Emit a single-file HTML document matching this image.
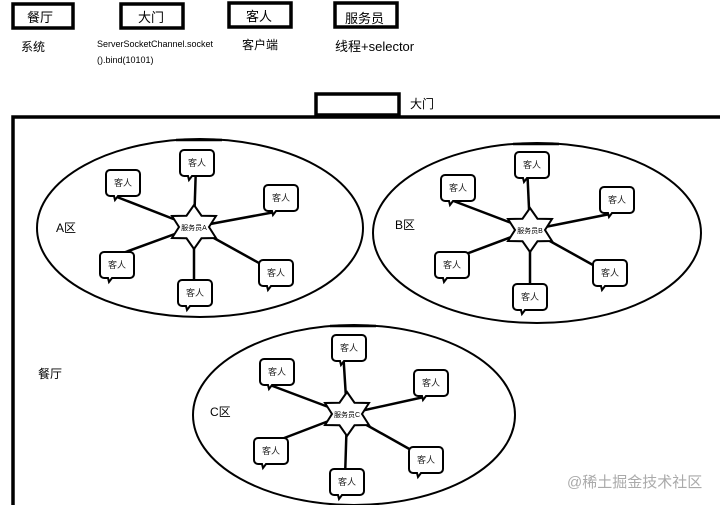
<!DOCTYPE html>
<html><head><meta charset="utf-8"><style>
html,body{margin:0;padding:0;background:#fff;}
svg{display:block;font-family:"Liberation Sans","Noto Sans CJK SC",sans-serif;}
</style></head><body>
<svg width="720" height="505" viewBox="0 0 720 505" xmlns="http://www.w3.org/2000/svg">
<defs>
<g id="bub"><path d="M-13,-13 h26 a4,4 0 0 1 4,4 v18 a4,4 0 0 1 -4,4 h-18 l-3,4 l-1,-4 h-4 a4,4 0 0 1 -4,-4 v-18 a4,4 0 0 1 4,-4z" fill="#fff" stroke="#000" stroke-width="2"/></g>
<polygon id="star" points="0,-22 7.5,-11.3 22,-11 15,0 22,11 7.5,11.3 0,22 -7.5,11.3 -22,11 -15,0 -22,-11 -7.5,-11.3" fill="#fff" stroke="#000" stroke-width="2"/>
</defs>
<g fill="none" stroke="#000" stroke-width="3.5">
<rect x="13" y="4" width="60" height="24"/>
<rect x="121" y="4" width="62" height="24"/>
<rect x="229" y="3" width="62" height="24"/>
<rect x="335" y="3" width="62" height="24"/>
<rect x="316" y="94" width="83" height="21"/>
<path d="M13,505 V117 H720"/>
</g>
<g font-size="13" fill="#000">
<text x="27" y="22">餐厅</text><text x="138" y="22">大门</text><text x="246" y="21">客人</text><text x="345" y="23">服务员</text>
<text x="21" y="51" font-size="12">系统</text>
<text x="97" y="47" font-size="9">ServerSocketChannel.socket</text>
<text x="97" y="63" font-size="9">().bind(10101)</text>
<text x="242" y="49" font-size="12">客户端</text>
<text x="335" y="51" font-size="13">线程+selector</text>
<text x="410" y="108" font-size="12">大门</text>
<text x="56" y="232" font-size="12">A区</text>
<text x="395" y="229" font-size="12">B区</text>
<text x="210" y="416" font-size="12">C区</text>
<text x="38" y="378" font-size="12">餐厅</text>
</g>
<text x="567" y="487" font-size="15" fill="#aaa">@稀土掘金技术社区</text>
<g fill="none" stroke="#000" stroke-width="2">
<ellipse cx="200" cy="228" rx="163" ry="89"/>
<ellipse cx="537" cy="233" rx="164" ry="90"/>
<ellipse cx="354" cy="415" rx="161" ry="90"/>
</g>
<g stroke="#000" stroke-width="2.5">
<line x1="176" y1="140" x2="222" y2="140"/>
<line x1="513" y1="144" x2="559" y2="144"/>
<line x1="330" y1="326" x2="376" y2="326"/>
</g>
<g stroke="#000" stroke-width="2.5">
<line x1="194" y1="227" x2="196" y2="165"/><line x1="194" y1="227" x2="117" y2="197"/><line x1="194" y1="227" x2="275" y2="212"/>
<line x1="194" y1="227" x2="112" y2="257"/><line x1="194" y1="227" x2="268" y2="268"/><line x1="194" y1="227" x2="194" y2="290"/>
<line x1="530" y1="230" x2="527" y2="165"/><line x1="530" y1="230" x2="451" y2="200"/><line x1="530" y1="230" x2="610" y2="214"/>
<line x1="530" y1="230" x2="450" y2="260"/><line x1="530" y1="230" x2="602" y2="270"/><line x1="530" y1="230" x2="530" y2="295"/>
<line x1="347" y1="414" x2="343" y2="350"/><line x1="347" y1="414" x2="270" y2="385"/><line x1="347" y1="414" x2="424" y2="397"/>
<line x1="347" y1="414" x2="266" y2="445"/><line x1="347" y1="414" x2="420" y2="455"/><line x1="347" y1="414" x2="345" y2="478"/>
</g>
<use href="#star" x="194" y="227"/><use href="#star" x="530" y="230"/><use href="#star" x="347" y="414"/>
<g font-size="7" text-anchor="middle"><text x="194" y="230">服务员A</text><text x="530" y="233">服务员B</text><text x="347" y="417">服务员C</text></g>
<use href="#bub" x="197" y="163"/><use href="#bub" x="123" y="183"/><use href="#bub" x="281" y="198"/>
<use href="#bub" x="117" y="265"/><use href="#bub" x="276" y="273"/><use href="#bub" x="195" y="293"/>
<use href="#bub" x="532" y="165"/><use href="#bub" x="458" y="188"/><use href="#bub" x="617" y="200"/>
<use href="#bub" x="452" y="265"/><use href="#bub" x="610" y="273"/><use href="#bub" x="530" y="297"/>
<use href="#bub" x="349" y="348"/><use href="#bub" x="277" y="372"/><use href="#bub" x="431" y="383"/>
<use href="#bub" x="271" y="451"/><use href="#bub" x="426" y="460"/><use href="#bub" x="347" y="482"/>
<g font-size="9" text-anchor="middle" fill="#222">
<text x="197" y="166">客人</text><text x="123" y="186">客人</text><text x="281" y="201">客人</text>
<text x="117" y="268">客人</text><text x="276" y="276">客人</text><text x="195" y="296">客人</text>
<text x="532" y="168">客人</text><text x="458" y="191">客人</text><text x="617" y="203">客人</text>
<text x="452" y="268">客人</text><text x="610" y="276">客人</text><text x="530" y="300">客人</text>
<text x="349" y="351">客人</text><text x="277" y="375">客人</text><text x="431" y="386">客人</text>
<text x="271" y="454">客人</text><text x="426" y="463">客人</text><text x="347" y="485">客人</text>
</g>
</svg>
</body></html>
